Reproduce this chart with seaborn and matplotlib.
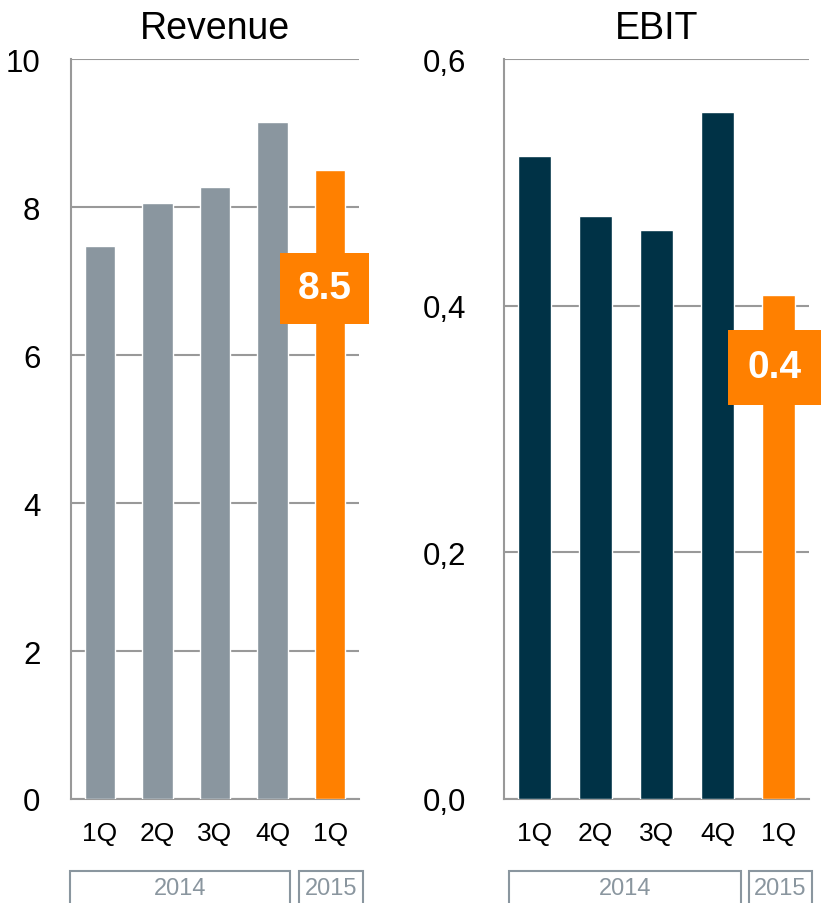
import pandas as pd
import matplotlib.pyplot as plt
import seaborn as sns
from matplotlib.patches import Rectangle
from matplotlib.ticker import FuncFormatter, FixedLocator

# data
quarters = ["1Q", "2Q", "3Q", "4Q", "1Q"]
years = ["2014", "2014", "2014", "2014", "2015"]
revenue = [7.47, 8.05, 8.27, 9.15, 8.5]
ebit = [0.521, 0.473, 0.461, 0.557, 0.409]

GREY = "#8A969F"
NAVY = "#003246"
ORANGE = "#FF8000"
LINE = "#999999"


def draw_panel(ax, values, base_color, title, ymax, step, comma, width, label_x, label_y, tick_pad, box_pad):
    periods = [f"{q} {y}" for q, y in zip(quarters, years)]
    df = pd.DataFrame({"period": periods, "value": values})
    palette = {p: (ORANGE if y == "2015" else base_color) for p, y in zip(periods, years)}
    sns.barplot(data=df, x="period", y="value", hue="period", palette=palette,
                width=width, legend=False, saturation=1, ax=ax, zorder=3)
    ax.set_xlim(-0.5, len(periods) - 0.5)
    ax.set_ylim(0, ymax)
    yt = [i * step for i in range(int(round(ymax / step)) + 1)]
    ax.set_yticks(yt)
    if comma:
        ax.yaxis.set_major_formatter(FuncFormatter(lambda v, p: f"{v:.1f}".replace(".", ",")))
    else:
        ax.yaxis.set_major_formatter(FuncFormatter(lambda v, p: f"{v:.0f}"))
    ax.set_xticks(range(len(periods)))
    ax.set_xticklabels(quarters)
    ax.xaxis.set_minor_locator(FixedLocator([i - 0.5 for i in range(len(periods) + 1)]))
    ax.tick_params(axis="x", which="major", length=0, pad=16, labelsize=19, labelcolor="black")
    ax.tick_params(axis="x", which="minor", length=7, width=1.5, color=LINE, direction="out")
    ax.tick_params(axis="y", length=8, width=1.5, color=LINE, pad=tick_pad, labelsize=22.5, labelcolor="black")
    ax.grid(False)
    for v in yt:
        ax.axhline(v, color=LINE, lw=1.5, zorder=1)
    for s in ["top", "right"]:
        ax.spines[s].set_visible(False)
    for s in ["left", "bottom"]:
        ax.spines[s].set_color(LINE)
        ax.spines[s].set_linewidth(1.5)
    ax.set_xlabel("")
    ax.set_ylabel("")
    ax.set_title(title, fontsize=27, pad=15, color="black")
    last = len(values) - 1
    ax.text(label_x, label_y, f"{values[last]:.1f}", color="white", fontsize=28,
            fontweight="bold", ha="center", va="center", zorder=5, clip_on=False,
            bbox=dict(boxstyle=f"square,pad={box_pad}", fc=ORANGE, ec="none"))


sns.set_theme(style="white")
plt.rcParams["font.family"] = ["Liberation Sans", "DejaVu Sans"]

W, H = 827, 904
fig = plt.figure(figsize=(W / 100, H / 100), dpi=100)
ax1 = fig.add_axes([71 / W, 104 / H, 288 / W, 740 / H])
ax2 = fig.add_axes([504 / W, 104 / H, 305 / W, 740 / H])

draw_panel(ax1, revenue, GREY, "Revenue", 10, 2, False, 0.53, 3.9, 6.9, 14, 0.45)
draw_panel(ax2, ebit, NAVY, "EBIT", 0.6, 0.2, True, 0.54, 3.93, 0.35, 19, 0.5)

# year boxes under the quarters
boxes = [(70, 290, "2014"), (299, 363, "2015"), (509, 741, "2014"), (749, 812, "2015")]
for x0, x1, lab in boxes:
    fig.patches.append(Rectangle((x0 / W, -0.02), (x1 - x0) / W, (H - 872) / H + 0.02,
                                 transform=fig.transFigure, fill=False, ec=GREY, lw=1.5))
    fig.text((x0 + x1) / 2 / W, (H - 889) / H, lab, ha="center", va="center",
             fontsize=17, color=GREY)

plt.savefig("out.png", dpi=100)
